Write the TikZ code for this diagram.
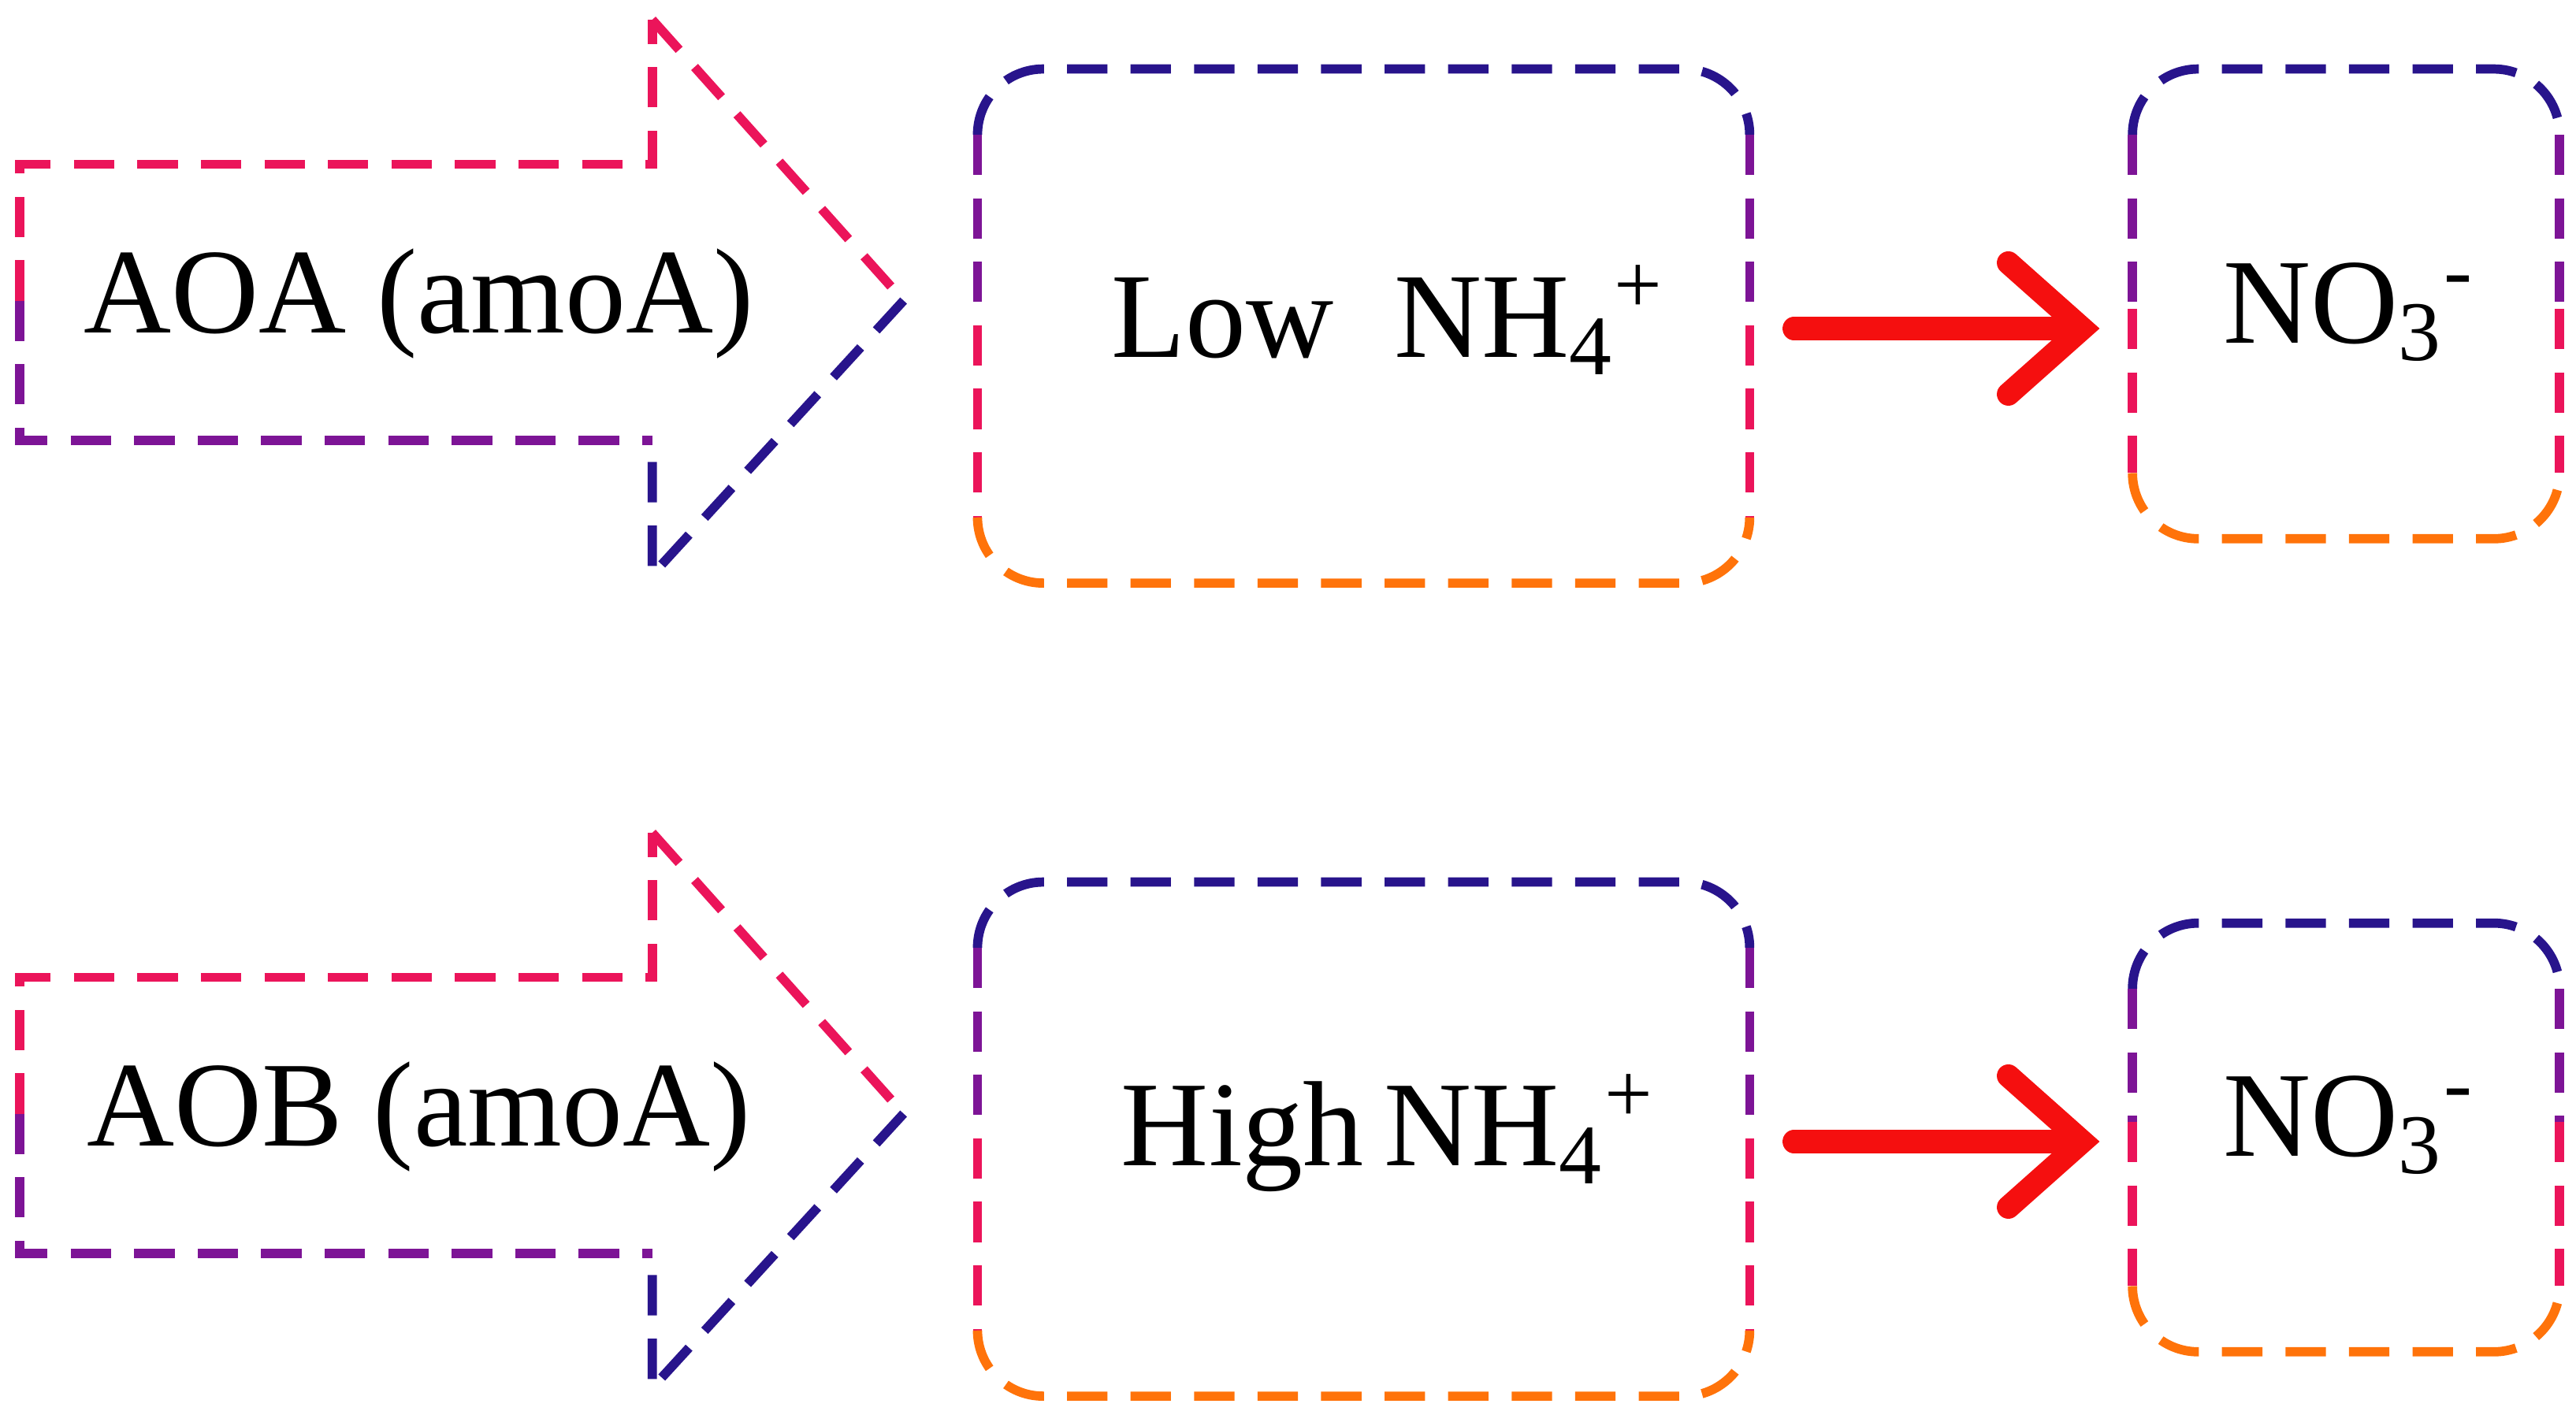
\documentclass[tikz,border=0pt]{standalone}
\usepackage{fontspec}
\setmainfont{Liberation Serif}
\usetikzlibrary{arrows.meta}
\definecolor{dblue}{RGB}{40,20,140}
\definecolor{dpurple}{RGB}{125,20,150}
\definecolor{dpink}{RGB}{235,20,90}
\definecolor{dorange}{RGB}{255,115,10}
\definecolor{dred}{RGB}{245,15,15}
\tikzset{
  dline/.style={line width=1.6pt, dash pattern=on 7pt off 4pt},
  txt/.style={font=\fontsize{21}{25}\selectfont, inner sep=0pt},
  go/.style={dred, line width=0.14cm, line cap=round,
    -{Straight Barb[length=0.45cm, width=0.8cm, line cap=round]}},
}
\begin{document}
\begin{tikzpicture}
  \useasboundingbox (0,0) rectangle (15.68,8.68);
  \foreach \dy/\org/\lvl/\n/\bt in {0/AOA/Low\ \ /1/8.26, -4.95/AOB/High\,/2/8.01} {
    \begin{scope}[yshift=\dy cm]
      % fat arrow
      \draw[dline,dpink] (0.12,6.85) -- (0.12,7.68) -- (3.97,7.68) -- (3.97,8.56);
      \draw[dline,dpurple] (0.12,6.85) -- (0.12,6.00) -- (3.97,6.00);
      \draw[dline,dpink] (3.97,8.56) -- (5.50,6.85);
      \draw[dline,dblue] (5.50,6.85) -- (3.97,5.18) -- (3.97,6.00);
      \node[txt] (org\n) at (2.55,6.83) {\org\ (amoA)};
      % first box
      \draw[dline,dblue] (5.95,7.86) arc(180:90:0.4) -- (10.25,8.26) arc(90:0:0.4);
      \draw[dline,dpurple] (5.95,7.86) -- (5.95,6.7) (10.65,7.86) -- (10.65,6.7);
      \draw[dline,dpink] (5.95,6.7) -- (5.95,5.53) (10.65,6.7) -- (10.65,5.53);
      \draw[dline,dorange] (5.95,5.53) arc(180:270:0.4) -- (10.25,5.13) arc(270:360:0.4);
      \node[txt] (amm\n) at (8.45,6.73) {\lvl NH\textsubscript{4}\textsuperscript{+}};
      % second box
      \draw[dline,dblue] (12.98,\bt-0.4) arc(180:90:0.4) -- (15.18,\bt) arc(90:0:0.4);
      \draw[dline,dpurple] (12.98,\bt-0.4) -- (12.98,6.8) (15.58,\bt-0.4) -- (15.58,6.8);
      \draw[dline,dpink] (12.98,6.8) -- (12.98,5.8) (15.58,6.8) -- (15.58,5.8);
      \draw[dline,dorange] (12.98,5.8) arc(180:270:0.4) -- (15.18,5.40) arc(270:360:0.4);
      \node[txt] (nit\n) at (14.30,6.78) {NO\textsubscript{3}\textsuperscript{-}};
      % flow
      \coordinate (s\n) at (10.92,6.68);
      \coordinate (t\n) at (12.78,6.68);
      \draw[go] (s\n) -- (t\n);
    \end{scope}
  }
\end{tikzpicture}
\end{document}
